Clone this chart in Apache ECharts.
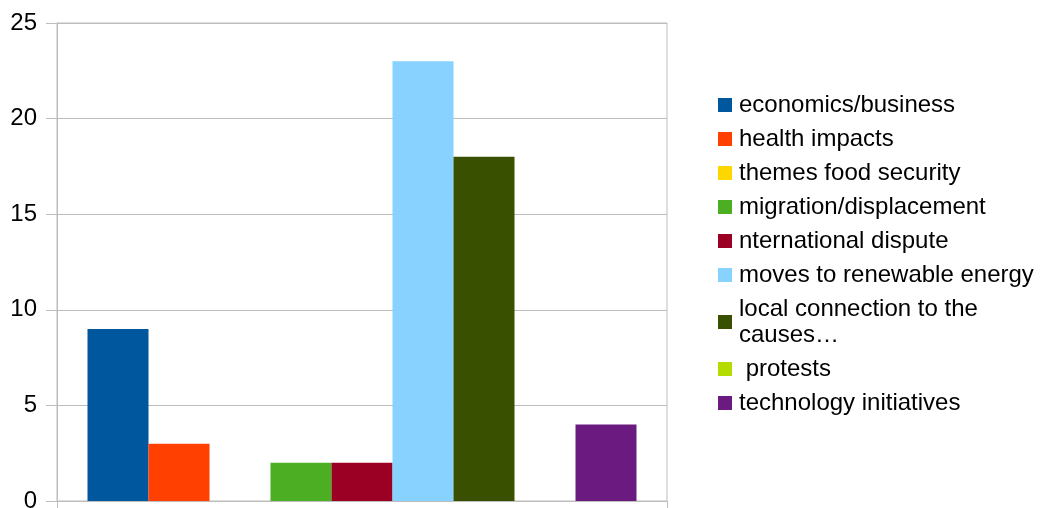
<!DOCTYPE html>
<html>
<head>
<meta charset="utf-8">
<script src="https://cdn.jsdelivr.net/npm/echarts@6/dist/echarts.min.js"></script>
<style>
    html, body { margin: 0; padding: 0; background: #ffffff; }
    #chart { width: 1040px; height: 508px; }
</style>
</head>
<body>
<div id="chart"></div>
<script>
/* 数据 */
const categories = [""];

const seriesNames = [
    "economics/business",
    "health impacts",
    "themes food security",
    "migration/displacement",
    "nternational dispute",
    "moves to renewable energy",
    "local connection to the\ncauses…",
    " protests",
    "technology initiatives"
];

const seriesValues = [9, 3, 0, 2, 2, 23, 18, 0, 4];

const seriesColors = [
    "#00579e", "#ff4000", "#ffd700", "#4cae23", "#9b0024",
    "#87d2ff", "#385000", "#b4dc00", "#6b1a7f"
];

const yTicks = { min: 0, max: 25, interval: 5 };

const chart = echarts.init(document.getElementById("chart"));

const gridColor = "#bdbdbd";
const fontFamily = "'Liberation Sans', Arial, sans-serif";

chart.setOption({

    animation: false,

    grid: {
        left: 57,
        top: 23,
        width: 610,
        bottom: 7,
        show: true,
        borderColor: gridColor,
        borderWidth: 1,
        containLabel: false,
        outerBoundsMode: "none"
    },

    legend: {
        orient: "vertical",
        left: 718,
        top: 92,
        padding: 0,
        itemWidth: 14,
        itemHeight: 14,
        itemGap: 8,
        icon: "rect",
        textStyle: {
            fontFamily: fontFamily,
            fontSize: 24,
            lineHeight: 26,
            color: "#000000",
            padding: [0, 0, 0, 2]
        },
        data: seriesNames
    },

    xAxis: {
        type: "category",
        data: categories,
        axisLine: { show: true, lineStyle: { color: gridColor } },
        axisTick: { show: true, length: 10, lineStyle: { color: gridColor } },
        axisLabel: { show: false }
    },

    yAxis: {
        type: "value",
        min: yTicks.min,
        max: yTicks.max,
        interval: yTicks.interval,
        axisLine: { show: true, lineStyle: { color: gridColor } },
        axisTick: { show: true, length: 11, lineStyle: { color: gridColor } },
        splitLine: { show: true, lineStyle: { color: gridColor } },
        axisLabel: {
            margin: 20,
            fontFamily: fontFamily,
            fontSize: 24,
            color: "#000000"
        }
    },

    series: seriesNames.map((name, i) => {

        return {
            name: name,
            type: "bar",
            barGap: "0%",
            barCategoryGap: "10%",
            itemStyle: { color: seriesColors[i] },
            data: [seriesValues[i]]
        };
    })
});
</script>
</body>
</html>
